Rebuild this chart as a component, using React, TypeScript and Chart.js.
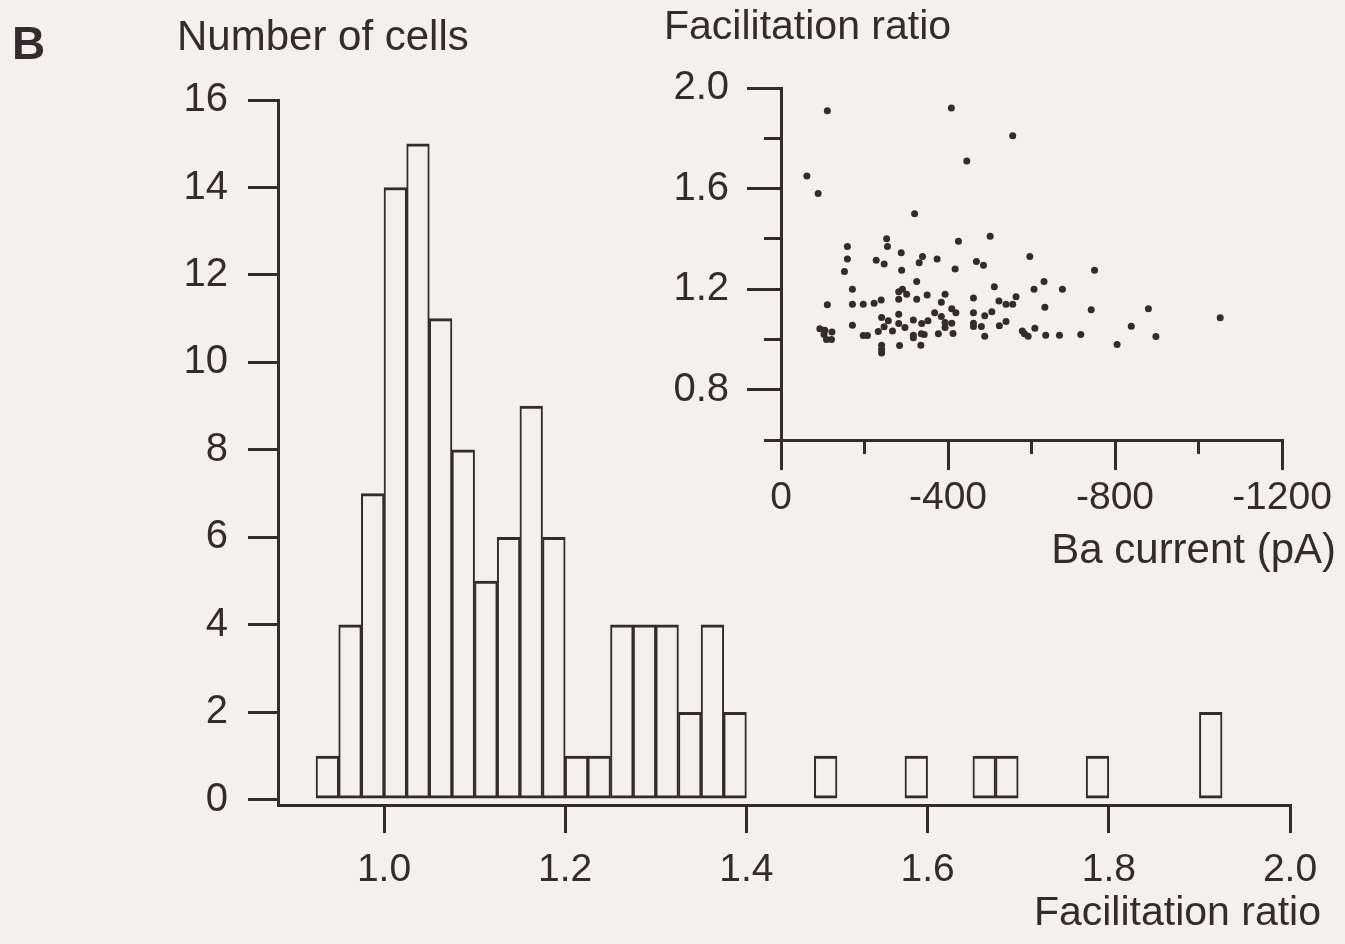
import React, { useEffect, useRef } from "react";
import { Chart, registerables } from "chart.js";

Chart.register(...registerables);

const INK = "#342b2f";
const PAPER = "#f4f0ee";
const FONT = '"Liberation Sans", Arial, Helvetica, sans-serif';

// ---- Main histogram: facilitation ratio bins (bin centres, width 0.025) ----
const binCenters = [
  0.9375, 0.9625, 0.9875, 1.0125, 1.0375, 1.0625, 1.0875, 1.1125, 1.1375, 1.1625,
  1.1875, 1.2125, 1.2375, 1.2625, 1.2875, 1.3125, 1.3375, 1.3625, 1.3875,
  1.4875, 1.5875, 1.6625, 1.6875, 1.7875, 1.9125,
];
const cellCounts = [
  1, 4, 7, 14, 15, 11, 8, 5, 6, 9,
  6, 1, 1, 4, 4, 4, 2, 4, 2,
  1, 1, 1, 1, 1, 2,
];
const mainXTicks = [1.0, 1.2, 1.4, 1.6, 1.8, 2.0];
const mainYTicks = [0, 2, 4, 6, 8, 10, 12, 14, 16];

// ---- Inset scatter: Ba current (pA) vs facilitation ratio ----
const baCurrent = [
  -111, -408, -555, -445, -62, -89, -320, -501, -425, -253,
  -255, -159, -159, -288, -339, -331, -374, -228, -247, -596,
  -468, -485, -152, -289, -417, -751, -325, -630, -171, -282,
  -291, -301, -511, -606, -674, -393, -350, -325, -282, -461,
  -563, -522, -539, -555, -384, -111, -171, -197, -223, -240,
  -632, -743, -880, -1052, -409, -419, -368, -384, -461, -505,
  -488, -282, -241, -257, -171, -317, -337, -352, -282, -409,
  -461, -461, -480, -539, -523, -297, -247, -233, -267, -93,
  -105, -122, -109, -121, -103, -197, -207, -317, -336, -343,
  -317, -377, -393, -412, -578, -583, -592, -608, -634, -667,
  -718, -839, -898, -805, -488, -284, -335, -241, -241, -241,
  -393,
];
const facRatio = [
  1.91, 1.92, 1.81, 1.71, 1.65, 1.58, 1.5, 1.41, 1.39, 1.4,
  1.37, 1.37, 1.32, 1.345, 1.33, 1.305, 1.32, 1.315, 1.3, 1.33,
  1.31, 1.295, 1.27, 1.275, 1.28, 1.275, 1.23, 1.23, 1.2, 1.19,
  1.2, 1.18, 1.21, 1.2, 1.2, 1.18, 1.177, 1.16, 1.16, 1.165,
  1.17, 1.153, 1.14, 1.14, 1.148, 1.138, 1.14, 1.14, 1.144, 1.157,
  1.128, 1.118, 1.122, 1.086, 1.122, 1.106, 1.106, 1.091, 1.106, 1.11,
  1.094, 1.1, 1.087, 1.074, 1.056, 1.077, 1.063, 1.074, 1.063, 1.064,
  1.064, 1.051, 1.051, 1.071, 1.054, 1.047, 1.05, 1.032, 1.034, 1.042,
  1.037, 1.03, 1.0, 1.0, 1.02, 1.016, 1.016, 1.017, 1.023, 1.02,
  1.007, 1.023, 1.047, 1.024, 1.034, 1.023, 1.013, 1.044, 1.017, 1.017,
  1.02, 1.052, 1.012, 0.98, 1.013, 0.976, 0.977, 0.977, 0.946, 0.96,
  1.067,
];
const insetXMajor = [0, -400, -800, -1200];
const insetXMinor = [-200, -600, -1000];
const insetYMajor = [2.0, 1.6, 1.2, 0.8];
const insetYMinor = [1.8, 1.4, 1.0, 0.6];

type TextItem = { text: string; x: number; y: number; align: CanvasTextAlign; font: string };

const mainTexts: TextItem[] = [
  { text: "B", x: 12, y: 46, align: "left", font: `bold 46px ${FONT}` },
  { text: "Number of cells", x: 177, y: 38, align: "left", font: `42px ${FONT}` },
  { text: "Facilitation ratio", x: 664, y: 28, align: "left", font: `41px ${FONT}` },
  { text: "Facilitation ratio", x: 1321, y: 914, align: "right", font: `41px ${FONT}` },
  { text: "Ba current (pA)", x: 1336, y: 551, align: "right", font: `42px ${FONT}` },
];

function textPlugin(items: TextItem[]) {
  return {
    id: "panelText",
    afterDraw(chart: any) {
      const ctx = chart.ctx as CanvasRenderingContext2D;
      ctx.save();
      ctx.fillStyle = INK;
      ctx.textBaseline = "middle";
      for (const it of items) {
        ctx.font = it.font;
        ctx.textAlign = it.align;
        ctx.fillText(it.text, it.x, it.y);
      }
      ctx.restore();
    },
  };
}

const setTicks = (vals: number[]) => (scale: any) => {
  scale.ticks = vals.map((v) => ({ value: v }));
};

const axisGrid = (len: number) => ({
  drawOnChartArea: false,
  offset: false,
  color: INK,
  lineWidth: 3,
  tickLength: len,
});

const xTickFont = { family: FONT, size: 39 };
const yTickFont = { family: FONT, size: 40 };

export default function App() {
  const mainRef = useRef<HTMLCanvasElement>(null);
  const insetRef = useRef<HTMLCanvasElement>(null);

  useEffect(() => {
    const mainChart = new Chart(mainRef.current!, {
      type: "bar",
      data: {
        datasets: [
          {
            data: binCenters.map((x, i) => ({ x, y: cellCounts[i] })),
            backgroundColor: PAPER,
            borderColor: INK,
            borderWidth: { top: 3, bottom: 3, left: 2, right: 2 },
            borderSkipped: false,
            categoryPercentage: 1,
            barPercentage: 1,
          } as any,
        ],
      },
      options: {
        animation: false,
        responsive: false,
        layout: { padding: { top: 100, right: 55, left: 0, bottom: 0 } },
        plugins: { legend: { display: false }, tooltip: { enabled: false } },
        scales: {
          x: {
            type: "linear",
            min: 0.883,
            max: 2.0,
            offset: false,
            afterBuildTicks: setTicks(mainXTicks),
            afterFit: (s: any) => {
              s.height = 139;
            },
            grid: axisGrid(28),
            border: { display: true, color: INK, width: 3 },
            ticks: {
              color: INK,
              font: xTickFont,
              padding: 14,
              autoSkip: false,
              maxRotation: 0,
              callback: (v: any) => Number(v).toFixed(1),
            },
          },
          y: {
            type: "linear",
            min: -0.12,
            max: 16,
            afterBuildTicks: setTicks(mainYTicks),
            afterFit: (s: any) => {
              s.width = 278;
            },
            grid: axisGrid(30),
            border: { display: true, color: INK, width: 3 },
            ticks: {
              color: INK,
              font: yTickFont,
              padding: 20,
              autoSkip: false,
              callback: (v: any) => String(v),
            },
          },
        },
      } as any,
      plugins: [textPlugin(mainTexts)],
    });

    const insetChart = new Chart(insetRef.current!, {
      type: "scatter",
      data: {
        datasets: [
          {
            data: baCurrent.map((x, i) => ({ x, y: facRatio[i] })),
            backgroundColor: INK,
            borderWidth: 0,
            pointRadius: 3.5,
            pointHoverRadius: 3.5,
            xAxisID: "x",
            yAxisID: "y",
          },
        ],
      },
      options: {
        animation: false,
        responsive: false,
        layout: { padding: { top: 88, right: 63, left: 0, bottom: 0 } },
        plugins: { legend: { display: false }, tooltip: { enabled: false } },
        scales: {
          xm: {
            type: "linear",
            position: "bottom",
            weight: 0,
            min: -1200,
            max: 0,
            reverse: true,
            afterBuildTicks: setTicks(insetXMinor),
            afterFit: (s: any) => {
              s.height = 0;
            },
            grid: axisGrid(14),
            border: { display: false },
            ticks: { display: false },
          },
          x: {
            type: "linear",
            position: "bottom",
            weight: 1,
            min: -1200,
            max: 0,
            reverse: true,
            afterBuildTicks: setTicks(insetXMajor),
            afterFit: (s: any) => {
              s.height = 504;
            },
            grid: axisGrid(30),
            border: { display: true, color: INK, width: 3 },
            ticks: {
              color: INK,
              font: xTickFont,
              padding: 5,
              autoSkip: false,
              maxRotation: 0,
              callback: (v: any) => String(v),
            },
          },
          ym: {
            type: "linear",
            position: "left",
            weight: 0,
            min: 0.6,
            max: 2.0,
            afterBuildTicks: setTicks(insetYMinor),
            afterFit: (s: any) => {
              s.width = 0;
            },
            grid: axisGrid(17),
            border: { display: false },
            ticks: { display: false },
          },
          y: {
            type: "linear",
            position: "left",
            weight: 1,
            min: 0.6,
            max: 2.0,
            afterBuildTicks: setTicks(insetYMajor),
            afterFit: (s: any) => {
              s.width = 781;
            },
            grid: axisGrid(34),
            border: { display: true, color: INK, width: 3 },
            ticks: {
              color: INK,
              font: yTickFont,
              padding: 18,
              autoSkip: false,
              callback: (v: any) => Number(v).toFixed(1),
            },
          },
        },
      } as any,
    });

    return () => {
      mainChart.destroy();
      insetChart.destroy();
    };
  }, []);

  const canvasStyle: React.CSSProperties = {
    position: "absolute",
    left: 0,
    top: 0,
    display: "block",
  };

  return (
    <div
      style={{
        position: "absolute",
        left: 0,
        top: 0,
        width: 1345,
        height: 944,
        background: PAPER,
        overflow: "hidden",
      }}
    >
      <canvas ref={mainRef} width={1345} height={944} style={canvasStyle} />
      <canvas ref={insetRef} width={1345} height={944} style={canvasStyle} />
    </div>
  );
}
